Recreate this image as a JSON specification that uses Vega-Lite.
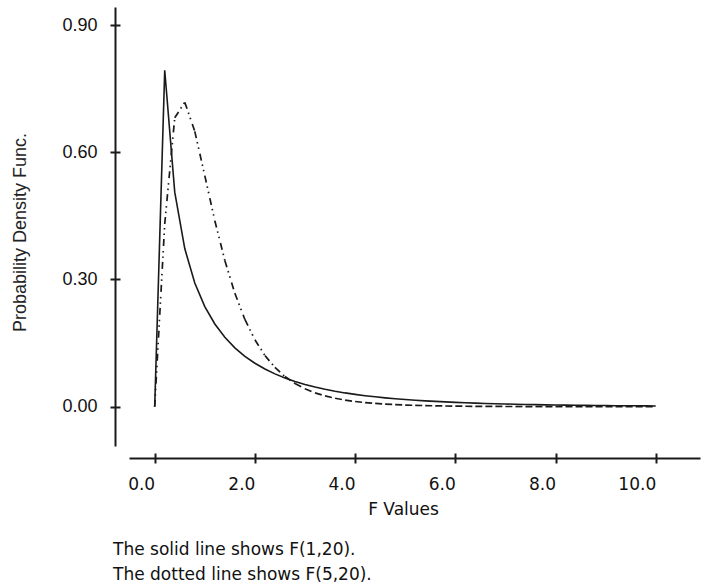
{
  "$schema": "https://vega.github.io/schema/vega-lite/v6.json",
  "width": 571,
  "height": 439,
  "autosize": {"type": "none"},
  "padding": {"left": 129, "top": 7, "right": 1, "bottom": 140},
  "background": "white",
  "config": {"view": {"stroke": null}, "font": "Liberation Sans"},
  "title": {
    "text": ["The solid line shows F(1,20).", "The dotted line shows F(5,20)."],
    "orient": "bottom",
    "anchor": "start",
    "frame": "group",
    "dx": -16,
    "offset": 25,
    "font": "DejaVu Sans",
    "fontSize": 17,
    "fontWeight": "normal",
    "lineHeight": 25,
    "color": "#111"
  },
  "data": {
    "values": [
      {"x": 0.0, "y": 0.0, "series": "F(1,20)"},
      {"x": 0.2, "y": 0.7936, "series": "F(1,20)"},
      {"x": 0.4, "y": 0.5060, "series": "F(1,20)"},
      {"x": 0.6, "y": 0.3729, "series": "F(1,20)"},
      {"x": 0.8, "y": 0.2918, "series": "F(1,20)"},
      {"x": 1.0, "y": 0.2360, "series": "F(1,20)"},
      {"x": 1.2, "y": 0.1951, "series": "F(1,20)"},
      {"x": 1.4, "y": 0.1636, "series": "F(1,20)"},
      {"x": 1.6, "y": 0.1388, "series": "F(1,20)"},
      {"x": 1.8, "y": 0.1188, "series": "F(1,20)"},
      {"x": 2.0, "y": 0.1024, "series": "F(1,20)"},
      {"x": 2.2, "y": 0.0888, "series": "F(1,20)"},
      {"x": 2.4, "y": 0.0774, "series": "F(1,20)"},
      {"x": 2.6, "y": 0.0677, "series": "F(1,20)"},
      {"x": 2.8, "y": 0.0595, "series": "F(1,20)"},
      {"x": 3.0, "y": 0.0524, "series": "F(1,20)"},
      {"x": 3.2, "y": 0.0464, "series": "F(1,20)"},
      {"x": 3.4, "y": 0.0411, "series": "F(1,20)"},
      {"x": 3.6, "y": 0.0365, "series": "F(1,20)"},
      {"x": 3.8, "y": 0.0325, "series": "F(1,20)"},
      {"x": 4.0, "y": 0.0291, "series": "F(1,20)"},
      {"x": 4.2, "y": 0.0260, "series": "F(1,20)"},
      {"x": 4.4, "y": 0.0233, "series": "F(1,20)"},
      {"x": 4.6, "y": 0.0209, "series": "F(1,20)"},
      {"x": 4.8, "y": 0.0188, "series": "F(1,20)"},
      {"x": 5.0, "y": 0.0169, "series": "F(1,20)"},
      {"x": 5.2, "y": 0.0153, "series": "F(1,20)"},
      {"x": 5.4, "y": 0.0138, "series": "F(1,20)"},
      {"x": 5.6, "y": 0.0125, "series": "F(1,20)"},
      {"x": 5.8, "y": 0.0113, "series": "F(1,20)"},
      {"x": 6.0, "y": 0.0102, "series": "F(1,20)"},
      {"x": 6.2, "y": 0.0093, "series": "F(1,20)"},
      {"x": 6.4, "y": 0.0084, "series": "F(1,20)"},
      {"x": 6.6, "y": 0.0077, "series": "F(1,20)"},
      {"x": 6.8, "y": 0.0070, "series": "F(1,20)"},
      {"x": 7.0, "y": 0.0064, "series": "F(1,20)"},
      {"x": 7.2, "y": 0.0058, "series": "F(1,20)"},
      {"x": 7.4, "y": 0.0053, "series": "F(1,20)"},
      {"x": 7.6, "y": 0.0049, "series": "F(1,20)"},
      {"x": 7.8, "y": 0.0044, "series": "F(1,20)"},
      {"x": 8.0, "y": 0.0041, "series": "F(1,20)"},
      {"x": 8.2, "y": 0.0037, "series": "F(1,20)"},
      {"x": 8.4, "y": 0.0034, "series": "F(1,20)"},
      {"x": 8.6, "y": 0.0031, "series": "F(1,20)"},
      {"x": 8.8, "y": 0.0029, "series": "F(1,20)"},
      {"x": 9.0, "y": 0.0027, "series": "F(1,20)"},
      {"x": 9.2, "y": 0.0024, "series": "F(1,20)"},
      {"x": 9.4, "y": 0.0022, "series": "F(1,20)"},
      {"x": 9.6, "y": 0.0021, "series": "F(1,20)"},
      {"x": 9.8, "y": 0.0019, "series": "F(1,20)"},
      {"x": 10.0, "y": 0.0018, "series": "F(1,20)"},
      {"x": 0.0, "y": 0.0, "series": "F(5,20)"},
      {"x": 0.2, "y": 0.4309, "series": "F(5,20)"},
      {"x": 0.4, "y": 0.6813, "series": "F(5,20)"},
      {"x": 0.6, "y": 0.7181, "series": "F(5,20)"},
      {"x": 0.8, "y": 0.6495, "series": "F(5,20)"},
      {"x": 1.0, "y": 0.5449, "series": "F(5,20)"},
      {"x": 1.2, "y": 0.4387, "series": "F(5,20)"},
      {"x": 1.4, "y": 0.3449, "series": "F(5,20)"},
      {"x": 1.6, "y": 0.2675, "series": "F(5,20)"},
      {"x": 1.8, "y": 0.2058, "series": "F(5,20)"},
      {"x": 2.0, "y": 0.1578, "series": "F(5,20)"},
      {"x": 2.2, "y": 0.1208, "series": "F(5,20)"},
      {"x": 2.4, "y": 0.0926, "series": "F(5,20)"},
      {"x": 2.6, "y": 0.0711, "series": "F(5,20)"},
      {"x": 2.8, "y": 0.0547, "series": "F(5,20)"},
      {"x": 3.0, "y": 0.0422, "series": "F(5,20)"},
      {"x": 3.2, "y": 0.0327, "series": "F(5,20)"},
      {"x": 3.4, "y": 0.0254, "series": "F(5,20)"},
      {"x": 3.6, "y": 0.0199, "series": "F(5,20)"},
      {"x": 3.8, "y": 0.0156, "series": "F(5,20)"},
      {"x": 4.0, "y": 0.0122, "series": "F(5,20)"},
      {"x": 4.2, "y": 0.0097, "series": "F(5,20)"},
      {"x": 4.4, "y": 0.0077, "series": "F(5,20)"},
      {"x": 4.6, "y": 0.0061, "series": "F(5,20)"},
      {"x": 4.8, "y": 0.0049, "series": "F(5,20)"},
      {"x": 5.0, "y": 0.0039, "series": "F(5,20)"},
      {"x": 5.2, "y": 0.0032, "series": "F(5,20)"},
      {"x": 5.4, "y": 0.0026, "series": "F(5,20)"},
      {"x": 5.6, "y": 0.0021, "series": "F(5,20)"},
      {"x": 5.8, "y": 0.0017, "series": "F(5,20)"},
      {"x": 6.0, "y": 0.0014, "series": "F(5,20)"},
      {"x": 6.2, "y": 0.0011, "series": "F(5,20)"},
      {"x": 6.4, "y": 0.0009, "series": "F(5,20)"},
      {"x": 6.6, "y": 0.0008, "series": "F(5,20)"},
      {"x": 6.8, "y": 0.0006, "series": "F(5,20)"},
      {"x": 7.0, "y": 0.0005, "series": "F(5,20)"},
      {"x": 7.2, "y": 0.0004, "series": "F(5,20)"},
      {"x": 7.4, "y": 0.0004, "series": "F(5,20)"},
      {"x": 7.6, "y": 0.0003, "series": "F(5,20)"},
      {"x": 7.8, "y": 0.0003, "series": "F(5,20)"},
      {"x": 8.0, "y": 0.0002, "series": "F(5,20)"},
      {"x": 8.2, "y": 0.0002, "series": "F(5,20)"},
      {"x": 8.4, "y": 0.0002, "series": "F(5,20)"},
      {"x": 8.6, "y": 0.0001, "series": "F(5,20)"},
      {"x": 8.8, "y": 0.0001, "series": "F(5,20)"},
      {"x": 9.0, "y": 0.0001, "series": "F(5,20)"},
      {"x": 9.2, "y": 0.0001, "series": "F(5,20)"},
      {"x": 9.4, "y": 0.0001, "series": "F(5,20)"},
      {"x": 9.6, "y": 0.0001, "series": "F(5,20)"},
      {"x": 9.8, "y": 0.0001, "series": "F(5,20)"},
      {"x": 10.0, "y": 0.0, "series": "F(5,20)"}
    ]
  },
  "layer": [
    {
      "transform": [{"filter": "datum.series === 'F(1,20)'"}],
      "mark": {"type": "line", "color": "#1a1a1a", "strokeWidth": 1.6, "interpolate": "linear"},
      "encoding": {
        "x": {
          "field": "x", "type": "quantitative",
          "scale": {"domain": [-0.513, 10.884], "nice": false, "zero": false},
          "axis": {
            "orient": "bottom", "offset": 12, "values": [0, 2, 4, 6, 8, 10], "format": ".1f",
            "domainColor": "#1a1a1a", "domainWidth": 2, "tickColor": "#1a1a1a", "tickWidth": 2, "tickSize": 5,
            "grid": false, "labelFont": "DejaVu Sans", "labelFontSize": 17, "labelColor": "#111",
            "labelAlign": "right", "labelDx": -1, "labelBaseline": "top", "labelPadding": 13,
            "title": "F  Values", "titleFont": "DejaVu Sans", "titleFontSize": 17, "titleFontWeight": "normal",
            "titleColor": "#111", "titlePadding": 9, "titleX": 274
          }
        },
        "y": {
          "field": "y", "type": "quantitative",
          "scale": {"domain": [-0.0927, 0.9427], "nice": false, "zero": false},
          "axis": {
            "orient": "left", "offset": 14, "values": [0, 0.3, 0.6, 0.9], "format": ".2f",
            "domainColor": "#1a1a1a", "domainWidth": 2, "tickColor": "#1a1a1a", "tickWidth": 2, "tickSize": 5,
            "grid": false, "labelFont": "Liberation Sans", "labelFontSize": 18, "labelColor": "#111",
            "labelPadding": 13,
            "title": "Probability Density Func.", "titleFont": "Liberation Sans", "titleFontSize": 18,
            "titleFontWeight": "normal", "titleColor": "#222", "titlePadding": 32, "titleY": 225
          }
        }
      }
    },
    {
      "transform": [
        {"filter": "datum.series === 'F(5,20)'"},
        {"window": [{"op": "lead", "field": "x", "as": "xn"}, {"op": "lead", "field": "y", "as": "yn"}], "sort": [{"field": "x", "order": "ascending"}]},
        {"filter": "datum.xn != null"}
      ],
      "mark": {"type": "rule", "color": "#1a1a1a", "strokeWidth": 1.7, "strokeDash": [7, 4, 1.5, 4, 1.5, 5], "strokeCap": "butt"},
      "encoding": {
        "x": {
          "field": "x", "type": "quantitative",
          "scale": {"domain": [-0.513, 10.884], "nice": false, "zero": false},
          "axis": {
            "orient": "bottom", "offset": 7, "values": [0, 2, 4, 6, 8, 10],
            "domain": false, "labels": false, "grid": false, "title": null,
            "tickColor": "#1a1a1a", "tickWidth": 2, "tickSize": 5
          }
        },
        "y": {
          "field": "y", "type": "quantitative",
          "scale": {"domain": [-0.0927, 0.9427], "nice": false, "zero": false},
          "axis": {
            "orient": "left", "offset": 9, "values": [0, 0.3, 0.6, 0.9],
            "domain": false, "labels": false, "grid": false, "title": null,
            "tickColor": "#1a1a1a", "tickWidth": 2, "tickSize": 5
          }
        },
        "x2": {"field": "xn"},
        "y2": {"field": "yn"}
      }
    }
  ],
  "resolve": {"axis": {"x": "independent", "y": "independent"}}
}
